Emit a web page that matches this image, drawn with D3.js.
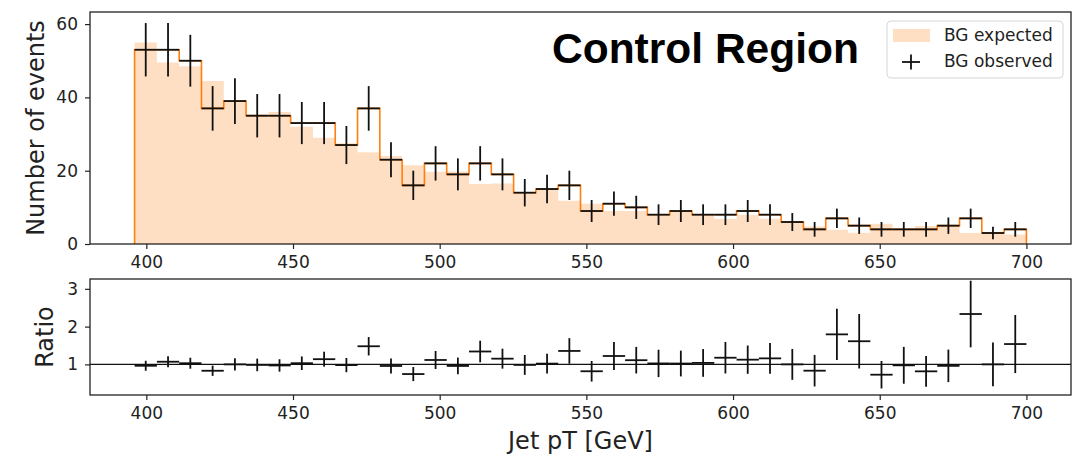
<!DOCTYPE html>
<html>
<head>
<meta charset="utf-8">
<script src="https://cdn.jsdelivr.net/npm/d3@7"></script>
<style>
  body { margin: 0; background: #fff; }
  text { font-family: "DejaVu Sans", sans-serif; fill: #222; }
  .axis path, .axis line { stroke: #222; stroke-width: 1.2; }
  .axis text { font-size: 17px; }
  .label { font-size: 24px; }
  .legend text { font-size: 17px; }
</style>
</head>
<body>
<script>
//// DATA
// 40 bins of 7.6 GeV from 396 to 700
var binStart = 396, binEnd = 700, nBins = 40;

// BG expected (filled histogram)
var expected = [55, 49.5, 48.5, 44.5, 39, 35.5, 36, 32, 29, 27.5,
                25, 24, 21.5, 19.7, 19.8, 16.4, 16.5, 14.2, 14.7, 11.8,
                11, 9, 9, 7.8, 8.8, 7.7, 6.8, 8, 6.9, 6,
                4.8, 3.9, 3.1, 5.5, 4.1, 4.9, 5.2, 3.0, 3.0, 2.6];

// BG observed (counts, sqrt(N) errors)
var observed = [53, 53, 50, 37, 39, 35, 35, 33, 33, 27,
                37, 23, 16, 22, 19, 22, 19, 14, 15, 16,
                9, 11, 10, 8, 9, 8, 8, 9, 8, 6,
                4, 7, 5, 4, 4, 4, 5, 7, 3, 4];

var xTicks = [400, 450, 500, 550, 600, 650, 700];
var yTicksTop = [0, 20, 40, 60];
var yTicksRatio = [1, 2, 3];

var legendLabels = ["BG expected", "BG observed"];
var title = "Control Region";

//// LAYOUT
var width = 1079, height = 456;
var left = 90, right = 1071;
var top1 = 12, bottom1 = 244;
var top2 = 279, bottom2 = 395;

var binWidth = (binEnd - binStart) / nBins;
var edges = d3.range(nBins + 1).map(function(i) { return binStart + i * binWidth; });
var bins = expected.map(function(e, i) {
  var o = observed[i];
  return {
    lo: edges[i], hi: edges[i + 1], mid: (edges[i] + edges[i + 1]) / 2,
    exp: e, obs: o, err: Math.sqrt(o),
    ratio: o / e, rerr: Math.sqrt(o) / e
  };
});

var pad = (binEnd - binStart) * 0.05;
var x = d3.scaleLinear().domain([binStart - pad, binEnd + pad]).range([left, right]);
var y = d3.scaleLinear().domain([0, 63.3]).range([bottom1, top1]);
var yr = d3.scaleLinear().domain([0.19, 3.26]).range([bottom2, top2]);

var svg = d3.select("body").append("svg")
    .attr("width", width)
    .attr("height", height);

var orange = "#ff7f0e";
var fillCol = "rgba(255,127,14,0.25)";

// step outline path (goes down to 0 at both ends)
function stepPath(values, yScale) {
  var p = "M" + x(edges[0]) + "," + yScale(0);
  values.forEach(function(v, i) {
    p += "L" + x(edges[i]) + "," + yScale(v) + "L" + x(edges[i + 1]) + "," + yScale(v);
  });
  p += "L" + x(edges[nBins]) + "," + yScale(0);
  return p;
}

//// TOP PANEL
svg.append("path")
    .attr("d", stepPath(expected, y) + "Z")
    .attr("fill", fillCol)
    .attr("stroke", "none");

svg.append("path")
    .attr("d", stepPath(observed, y))
    .attr("fill", "none")
    .attr("stroke", orange)
    .attr("stroke-width", 1.6);

var obsG = svg.append("g").attr("stroke", "#111").attr("stroke-width", 1.8);
obsG.selectAll(".xe").data(bins).enter().append("line")
    .attr("x1", function(d) { return x(d.lo); })
    .attr("x2", function(d) { return x(d.hi); })
    .attr("y1", function(d) { return y(d.obs); })
    .attr("y2", function(d) { return y(d.obs); });
obsG.selectAll(".ye").data(bins).enter().append("line")
    .attr("x1", function(d) { return x(d.mid); })
    .attr("x2", function(d) { return x(d.mid); })
    .attr("y1", function(d) { return y(d.obs - d.err); })
    .attr("y2", function(d) { return y(d.obs + d.err); });

svg.append("g")
    .attr("class", "axis")
    .attr("transform", "translate(0," + bottom1 + ")")
    .call(d3.axisBottom(x).tickValues(xTicks).tickSize(5).tickPadding(7).tickSizeOuter(0))
    .select(".domain").remove();
svg.append("g")
    .attr("class", "axis")
    .attr("transform", "translate(" + left + ",0)")
    .call(d3.axisLeft(y).tickValues(yTicksTop).tickSize(5).tickPadding(7).tickSizeOuter(0))
    .select(".domain").remove();

svg.append("rect")
    .attr("x", left).attr("y", top1)
    .attr("width", right - left).attr("height", bottom1 - top1)
    .attr("fill", "none").attr("stroke", "#222").attr("stroke-width", 1.3);

svg.append("text")
    .attr("class", "label")
    .attr("text-anchor", "middle")
    .attr("transform", "translate(43.5," + ((top1 + bottom1) / 2) + ") rotate(-90)")
    .text("Number of events");

// title
svg.append("text")
    .attr("x", 552).attr("y", 63)
    .style("font-family", "'Liberation Sans', Arial, sans-serif")
    .style("font-weight", "bold")
    .style("font-size", "42.5px")
    .style("fill", "#000")
    .text(title);

// legend
var lg = svg.append("g").attr("class", "legend");
lg.append("rect")
    .attr("x", 887).attr("y", 21).attr("width", 176).attr("height", 57).attr("rx", 4)
    .attr("fill", "#fff").attr("stroke", "#d6d6d6").attr("stroke-width", 1);
lg.append("rect")
    .attr("x", 893).attr("y", 29).attr("width", 37).attr("height", 13)
    .attr("fill", fillCol);
lg.append("line").attr("x1", 902).attr("x2", 920).attr("y1", 62).attr("y2", 62)
    .attr("stroke", "#111").attr("stroke-width", 1.8);
lg.append("line").attr("x1", 911).attr("x2", 911).attr("y1", 54.5).attr("y2", 69.5)
    .attr("stroke", "#111").attr("stroke-width", 1.8);
lg.selectAll(".lt").data(legendLabels).enter().append("text")
    .attr("x", 944)
    .attr("y", function(d, i) { return 41 + i * 25.5; })
    .text(function(d) { return d; });

//// RATIO PANEL
svg.append("line")
    .attr("x1", left).attr("x2", right)
    .attr("y1", yr(1)).attr("y2", yr(1))
    .attr("stroke", "#111").attr("stroke-width", 1.2);

var rG = svg.append("g").attr("stroke", "#111").attr("stroke-width", 1.8);
rG.selectAll(".rxe").data(bins).enter().append("line")
    .attr("x1", function(d) { return x(d.lo); })
    .attr("x2", function(d) { return x(d.hi); })
    .attr("y1", function(d) { return yr(d.ratio); })
    .attr("y2", function(d) { return yr(d.ratio); });
rG.selectAll(".rye").data(bins).enter().append("line")
    .attr("x1", function(d) { return x(d.mid); })
    .attr("x2", function(d) { return x(d.mid); })
    .attr("y1", function(d) { return yr(d.ratio - d.rerr); })
    .attr("y2", function(d) { return yr(d.ratio + d.rerr); });

svg.append("g")
    .attr("class", "axis")
    .attr("transform", "translate(0," + bottom2 + ")")
    .call(d3.axisBottom(x).tickValues(xTicks).tickSize(5).tickPadding(7).tickSizeOuter(0))
    .select(".domain").remove();
svg.append("g")
    .attr("class", "axis")
    .attr("transform", "translate(" + left + ",0)")
    .call(d3.axisLeft(yr).tickValues(yTicksRatio).tickFormat(d3.format("d"))
      .tickSize(5).tickPadding(7).tickSizeOuter(0))
    .select(".domain").remove();

svg.append("rect")
    .attr("x", left).attr("y", top2)
    .attr("width", right - left).attr("height", bottom2 - top2)
    .attr("fill", "none").attr("stroke", "#222").attr("stroke-width", 1.3);

svg.append("text")
    .attr("class", "label")
    .attr("text-anchor", "middle")
    .attr("transform", "translate(53," + ((top2 + bottom2) / 2) + ") rotate(-90)")
    .text("Ratio");

svg.append("text")
    .attr("class", "label")
    .attr("text-anchor", "middle")
    .attr("x", (left + right) / 2).attr("y", 449)
    .text("Jet pT [GeV]");
</script>
</body>
</html>
